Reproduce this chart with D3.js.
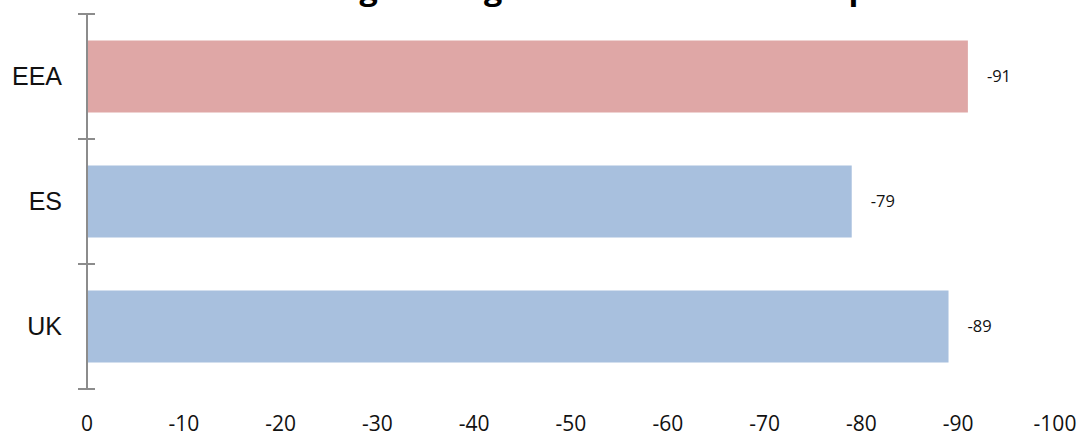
<!DOCTYPE html>
<html><head><meta charset="utf-8">
<script src="https://cdn.jsdelivr.net/npm/d3@7"></script>
<style>body{margin:0;background:#fff}</style>
</head><body>
<svg id="c" width="1082" height="435"></svg>
<script>
const categories = ["EEA", "ES", "UK"];
const values = [-91, -79, -89];
const colors = ["#dfa7a6", "#a8c0de", "#a8c0de"];
const tickValues = [0, -10, -20, -30, -40, -50, -60, -70, -80, -90, -100];
const title = "Percentage change in the number of trips";

const svg = d3.select("#c");
const x = d3.scaleLinear().domain([0, -100]).range([87, 1055]);
const y = d3.scaleBand().domain(categories).range([14, 389]).paddingInner(0.424).paddingOuter(0.212);

svg.append("text").attr("x", 215).attr("y", -0.5)
  .attr("font-family", "Open Sans").attr("font-weight", "bold").attr("font-size", 30)
  .attr("textLength", 670).attr("lengthAdjust", "spacingAndGlyphs")
  .text(title);

svg.selectAll("rect.bar").data(categories).join("rect")
  .attr("class", "bar")
  .attr("x", x(0)).attr("y", d => y(d))
  .attr("width", (d, i) => x(values[i]) - x(0))
  .attr("height", y.bandwidth())
  .attr("fill", (d, i) => colors[i]);

const gray = "#8c8c8c";
svg.append("line").attr("x1", x(0)).attr("x2", x(0)).attr("y1", 14).attr("y2", 389)
  .attr("stroke", gray).attr("stroke-width", 2);
const bounds = [14].concat(categories.map(c => y(c) + y.bandwidth() + y.step() * y.paddingInner() / 2));
bounds[bounds.length - 1] = 389;
svg.selectAll("line.tk").data(bounds).join("line").attr("class", "tk")
  .attr("x1", x(0) - 9).attr("x2", x(0) + 8).attr("y1", d => d).attr("y2", d => d)
  .attr("stroke", gray).attr("stroke-width", 2);

svg.selectAll("text.cat").data(categories).join("text").attr("class", "cat")
  .attr("x", 62).attr("y", d => y(d) + y.bandwidth() / 2).attr("dy", "0.35em")
  .attr("text-anchor", "end").attr("font-family", "Liberation Sans").attr("font-size", 25)
  .attr("fill", "#111").text(d => d);

svg.selectAll("text.val").data(categories).join("text").attr("class", "val")
  .attr("x", (d, i) => x(values[i]) + 19).attr("y", d => y(d) + y.bandwidth() / 2).attr("dy", "0.35em")
  .attr("font-family", "Open Sans").attr("font-size", 16.5)
  .attr("fill", "#111").text((d, i) => values[i]);

svg.selectAll("text.xt").data(tickValues).join("text").attr("class", "xt")
  .attr("x", d => x(d)).attr("y", 431)
  .attr("text-anchor", "middle").attr("font-family", "Open Sans").attr("font-size", 21)
  .attr("fill", "#111").text(d => d);
</script>
</body></html>
